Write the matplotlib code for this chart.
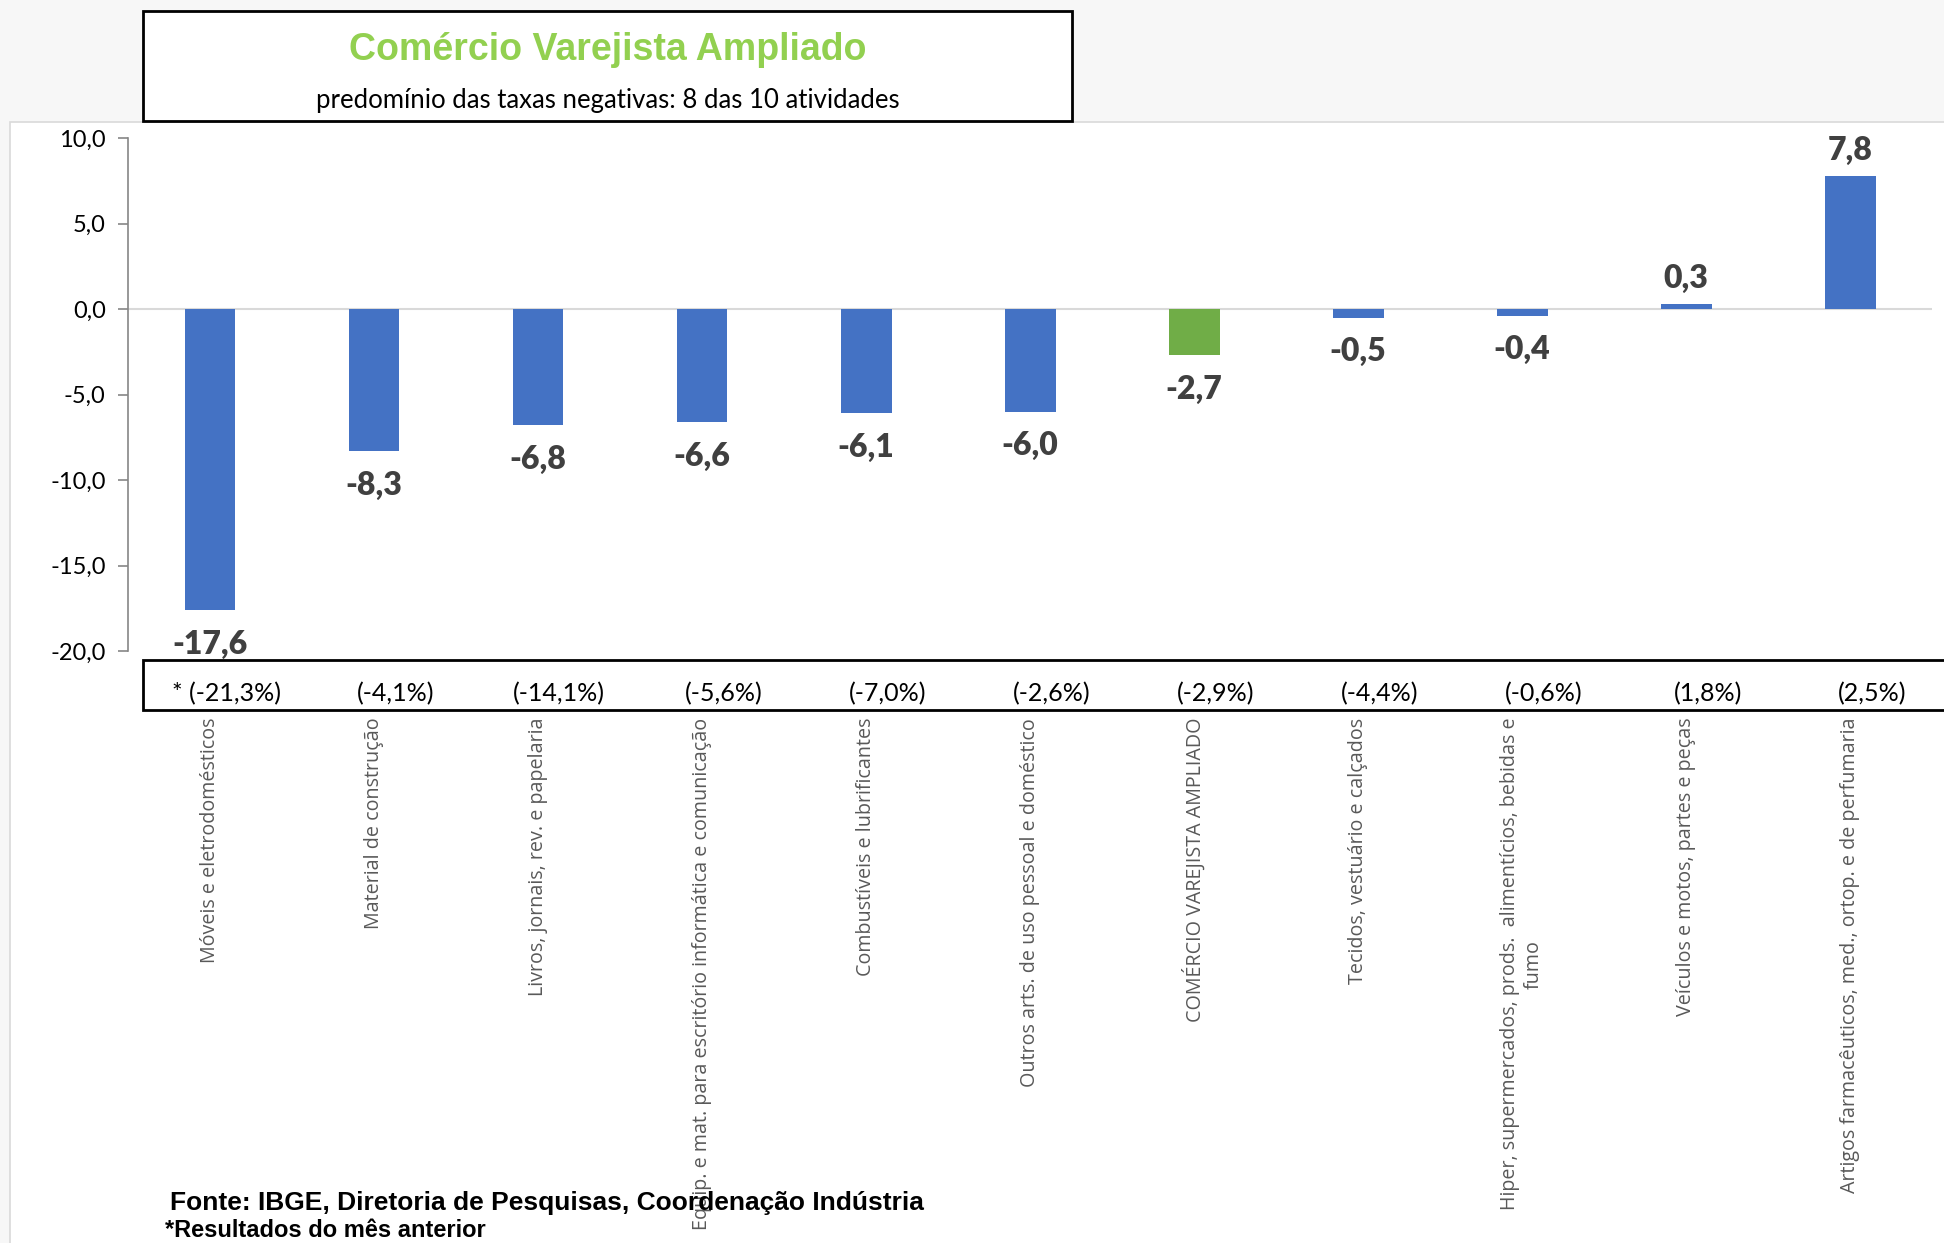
import numpy as np
import matplotlib
matplotlib.use("Agg")
import matplotlib.pyplot as plt
from matplotlib.patches import Rectangle
from matplotlib.ticker import FuncFormatter
import matplotlib.transforms as mtransforms

# dados
categorias = [
    "Móveis e eletrodomésticos",
    "Material de construção",
    "Livros, jornais, rev. e papelaria",
    "Equip. e mat. para escritório informática e comunicação",
    "Combustíveis e lubrificantes",
    "Outros arts. de uso pessoal e doméstico",
    "COMÉRCIO VAREJISTA AMPLIADO",
    "Tecidos, vestuário e calçados",
    "Hiper, supermercados, prods.  alimentícios, bebidas e\nfumo",
    "Veículos e motos, partes e peças",
    "Artigos farmacêuticos, med., ortop. e de perfumaria",
]
valores = [-17.6, -8.3, -6.8, -6.6, -6.1, -6.0, -2.7, -0.5, -0.4, 0.3, 7.8]
mes_anterior = ["* (-21,3%)", "(-4,1%)", "(-14,1%)", "(-5,6%)", "(-7,0%)", "(-2,6%)",
                "(-2,9%)", "(-4,4%)", "(-0,6%)", "(1,8%)", "(2,5%)"]
destaque = "COMÉRCIO VAREJISTA AMPLIADO"

azul = "#4472C4"
verde = "#70AD47"

fig = plt.figure(figsize=(19.44, 12.43), dpi=100)
fig.patch.set_facecolor("#f7f7f7")

# painel branco
fig.add_artist(Rectangle((0.005, -0.01), 1.0, 0.9118, transform=fig.transFigure,
                         facecolor="white", edgecolor="#d9d9d9", lw=1.2, zorder=0))

ax = fig.add_axes([0.0658, 0.476, 0.9282, 0.413])
ax.set_facecolor("none")

x = np.arange(len(valores))
cores = [verde if c.replace("\n", " ") == destaque else azul for c in categorias]
ax.bar(x, valores, width=0.31, color=cores, zorder=2)
ax.axhline(0, color="#d9d9d9", lw=1.5, zorder=1)

ax.set_xlim(-0.5, len(valores) - 0.5)
ax.set_ylim(-20, 10)
ax.set_yticks([10, 5, 0, -5, -10, -15, -20])
ax.yaxis.set_major_formatter(FuncFormatter(lambda v, p: f"{v:.1f}".replace(".", ",")))
ax.tick_params(axis="y", labelsize=17, colors="#868686", labelcolor="black",
               length=7, width=1.2, pad=9)
for t in ax.get_yticklabels():
    t.set_fontfamily("Lato")
ax.set_xticks([])
for s in ["top", "right", "bottom"]:
    ax.spines[s].set_visible(False)
ax.spines["left"].set_color("#868686")
ax.spines["left"].set_linewidth(1.2)

# rótulos de dados
for xi, v in zip(x, valores):
    txt = f"{v:.1f}".replace(".", ",")
    if v < 0:
        ax.annotate(txt, (xi, v), xytext=(0, -14), textcoords="offset points",
                    ha="center", va="top", fontsize=23, fontweight="heavy",
                    color="#404040", family="Lato")
    else:
        ax.annotate(txt, (xi, v), xytext=(0, 8), textcoords="offset points",
                    ha="center", va="bottom", fontsize=23, fontweight="heavy",
                    color="#404040", family="Lato")

# caixa do mês anterior
fig.add_artist(Rectangle((0.0736, 0.4288), 1.0, 0.0402, transform=fig.transFigure,
                         facecolor="white", edgecolor="black", lw=2, zorder=3))
trans = mtransforms.blended_transform_factory(ax.transData, fig.transFigure)
for xi, t in zip(x, mes_anterior):
    off = 0.1 if xi == 0 else 0.13
    fig.text(xi + off, 0.442, t, transform=trans, ha="center", va="center",
             fontsize=18, family="Lato", color="black", zorder=4)

# categorias
for xi, c in zip(x, categorias):
    fig.text(xi, 0.4225, c, transform=trans, rotation=90, ha="center", va="top",
             fontsize=14.2, family="Open Sans", color="#595959",
             multialignment="center", linespacing=1.25, zorder=4)

# título
fig.add_artist(Rectangle((0.0736, 0.9027), 0.4778, 0.0885, transform=fig.transFigure,
                         facecolor="white", edgecolor="black", lw=2, zorder=3))
fig.text(0.3125, 0.960, "Comércio Varejista Ampliado", ha="center", va="center",
         fontsize=27, fontweight="bold", color="#92D050", family="Liberation Sans", zorder=4)
fig.text(0.3125, 0.919, "predomínio das taxas negativas: 8 das 10 atividades",
         ha="center", va="center", fontsize=18.5, family="Lato", color="black", zorder=4)

# fonte
fig.text(0.0875, 0.032, "Fonte: IBGE, Diretoria de Pesquisas, Coordenação Indústria",
         ha="left", va="center", fontsize=19, fontweight="bold", family="Liberation Sans", zorder=5)
fig.text(0.0849, 0.0097, "*Resultados do mês anterior",
         ha="left", va="center", fontsize=17, fontweight="bold", family="Liberation Sans", zorder=5)

fig.savefig("out.png", dpi=100, facecolor=fig.get_facecolor())
